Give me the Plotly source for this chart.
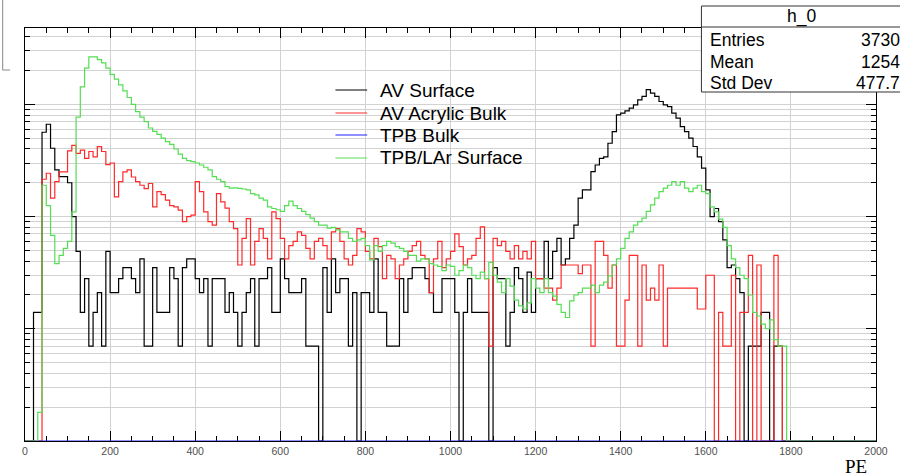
import numpy as np
import plotly.graph_objects as go

# ---- histogram contents: 200 bins of 10 PE from 0 to 2000 ----
bin_edges = list(range(0, 2001, 10))

av_surface = [
    0, 0, 14, 14, 564, 664, 406, 261, 227, 227,
    200, 100, 49, 14, 28, 7, 14, 21, 7, 49,
    21, 21, 28, 35, 35, 28, 21, 42, 7, 7,
    35, 14, 14, 14, 35, 28, 7, 35, 42, 42,
    28, 21, 28, 7, 28, 28, 28, 14, 21, 14,
    7, 14, 21, 28, 7, 28, 28, 35, 14, 14,
    42, 28, 21, 21, 21, 28, 7, 7, 7, 0,
    35, 14, 42, 21, 28, 28, 7, 21, 0, 21,
    21, 14, 42, 14, 14, 7, 7, 7, 28, 14,
    28, 35, 35, 35, 28, 21, 14, 14, 28, 28,
    28, 14, 0, 14, 28, 14, 14, 14, 14, 0,
    35, 28, 28, 7, 14, 35, 28, 14, 32, 14,
    28, 28, 60, 28, 49, 64, 37, 42, 64, 84,
    146, 173, 173, 251, 288, 330, 340, 450, 572, 805,
    833, 875, 925, 990, 1096, 1175, 1350, 1260, 1175, 1060,
    990, 955, 833, 752, 632, 572, 500, 421, 340, 270,
    173, 100, 118, 90, 62, 35, 37, 28, 21, 0,
    7, 7, 7, 14, 14, 0, 7, 7, 0, 0,
    0, 0, 0, 0, 0, 0, 0, 0, 0, 0,
    0, 0, 0, 0, 0, 0, 0, 0, 0, 0,
]

av_acrylic_bulk = [
    0, 0, 0, 0, 215, 243, 146, 205, 250, 250,
    385, 430, 365, 390, 330, 380, 340, 420, 380, 290,
    300, 150, 205, 250, 260, 225, 205, 190, 177, 197,
    122, 167, 157, 140, 125, 122, 114, 90, 100, 103,
    205, 167, 110, 90, 84, 160, 135, 119, 90, 78,
    37, 64, 96, 37, 60, 78, 64, 42, 110, 96,
    64, 42, 55, 60, 73, 68, 52, 42, 60, 64,
    55, 42, 73, 78, 60, 42, 37, 45, 78, 73,
    49, 42, 64, 54, 28, 45, 42, 28, 37, 42,
    49, 55, 60, 45, 42, 21, 42, 60, 35, 42,
    49, 70, 54, 37, 42, 45, 64, 81, 28, 7,
    64, 55, 60, 49, 42, 55, 42, 49, 42, 60,
    28, 28, 23, 23, 18, 23, 37, 37, 37, 37,
    31, 37, 37, 7, 60, 60, 45, 23, 37, 7,
    7, 18, 45, 45, 7, 37, 18, 23, 18, 37,
    7, 23, 23, 23, 23, 23, 23, 23, 15, 15,
    30, 30, 0, 14, 7, 7, 30, 0, 14, 14,
    45, 0, 37, 0, 0, 0, 45, 7, 0, 0,
    0, 0, 0, 0, 0, 0, 0, 0, 0, 0,
    0, 0, 0, 0, 0, 0, 0, 0, 0, 0,
]

tpb_bulk = [0] * 200

tpb_lar_surface = [
    0, 0, 0, 1.8, 190, 125, 68, 38, 45, 52,
    60, 110, 770, 1430, 2100, 2650, 2650, 2500, 2340, 2100,
    1850, 1680, 1490, 1320, 1150, 1000, 860, 770, 700, 615,
    575, 540, 500, 465, 440, 400, 360, 330, 315, 308,
    300, 288, 275, 260, 227, 215, 205, 185, 179, 180,
    178, 176, 173, 160, 156, 146, 140, 122, 118, 115,
    111, 125, 137, 125, 118, 111, 104, 97, 90, 84,
    84, 79, 80, 76, 73, 73, 64, 60, 62, 64,
    55, 41, 55, 49, 55, 60, 58, 54, 52, 49,
    45, 45, 40, 42, 42, 38, 37, 36, 33, 37,
    36, 30, 33, 37, 35, 30, 28, 32, 28, 39,
    30, 26, 21, 28, 24, 18, 16, 15, 17, 28,
    23, 21, 28, 21, 19.5, 16.5, 14, 12.6, 17.7, 20,
    21, 23, 23, 24.5, 21, 24.5, 26, 29.6, 37, 42,
    52, 64, 73, 84, 90, 97, 111, 127, 146, 167,
    179, 190, 205, 190, 205, 179, 167, 179, 190, 167,
    160, 122, 110, 95, 80, 55, 42, 35, 30, 28,
    20, 14, 13, 11, 10, 12, 8, 7, 7, 0,
    0, 0, 0, 0, 0, 0, 0, 0, 0, 0,
    0, 0, 0, 0, 0, 0, 0, 0, 0, 0,
]

series_names = ["AV Surface", "AV Acrylic Bulk", "TPB Bulk", "TPB/LAr Surface"]
series_values = [av_surface, av_acrylic_bulk, tpb_bulk, tpb_lar_surface]
series_colors = ["#000000", "#ff2a2a", "#2020ff", "#55dd55"]

# log axis: empty bins are drawn on the frame bottom, as ROOT does
y_floor = 1.0
log_range = [0.0, 3.68]

W, H = 900, 476
L, R, T, B = 25, 17, 28, 35


def px_x(px):
    return (px - L) / (W - L - R)


def px_y(py):
    return (H - B - py) / (H - T - B)


def step_path(values):
    v = np.maximum(np.asarray(values, dtype=float), y_floor)
    e = np.asarray(bin_edges, dtype=float)
    x = np.concatenate([[e[0]], e[:-1], [e[-1]], [e[-1]]])
    y = np.concatenate([[y_floor], v, [v[-1]], [y_floor]])
    return x, y


fig = go.Figure()
for name, vals, color in zip(series_names, series_values, series_colors):
    x, y = step_path(vals)
    fig.add_trace(go.Scatter(
        x=x, y=y, mode="lines", name=name, showlegend=False,
        line=dict(color=color, width=1.2, shape="hv"),
        hoverinfo="skip",
    ))

grid_col = "#d2d2d2"
fig.update_layout(
    width=W, height=H,
    margin=dict(l=L, r=R, t=T, b=B, pad=0),
    paper_bgcolor="white", plot_bgcolor="white",
    font=dict(family="Liberation Sans, Arial, sans-serif", color="#000"),
    xaxis=dict(
        range=[0, 2000], tick0=0, dtick=200,
        showline=True, linecolor="black", linewidth=1, mirror="ticks",
        ticks="inside", ticklen=10, tickcolor="black", tickwidth=1,
        showgrid=True, gridcolor=grid_col, gridwidth=1, zeroline=False,
        tickfont=dict(size=10.5, color="#505050", family="Liberation Sans, Arial"),
        minor=dict(dtick=50, ticks="inside", ticklen=5, tickcolor="black",
                   showgrid=False),
        layer="below traces",
    ),
    yaxis=dict(
        type="log", range=log_range, dtick=1,
        showline=True, linecolor="black", linewidth=1, mirror="ticks",
        ticks="inside", ticklen=10, tickcolor="black", tickwidth=1,
        showgrid=True, gridcolor=grid_col, gridwidth=1, zeroline=False,
        showticklabels=False,
        minor=dict(dtick="D1", ticks="inside", ticklen=5, tickcolor="black",
                   showgrid=True, gridcolor=grid_col, gridwidth=1),
        layer="below traces",
    ),
)

# legend (line sample + label per histogram)
legend_rows_y = [90, 113, 135, 158]
leg_font = dict(size=19, color="black", family="Liberation Sans, Arial, sans-serif")
for name, color, ly in zip(series_names, series_colors, legend_rows_y):
    fig.add_shape(type="line", xref="paper", yref="paper",
                  x0=px_x(338), x1=px_x(370), y0=px_y(ly), y1=px_y(ly),
                  line=dict(color=color, width=1.2), layer="above")
    fig.add_annotation(xref="paper", yref="paper", x=px_x(381), y=px_y(ly),
                       text=name, showarrow=False, xanchor="left",
                       yanchor="middle", font=leg_font)

# statistics box
sx0, sx1, sy0, sy1, sy_head = 707, 909, 6, 92, 27
fig.add_shape(type="rect", xref="paper", yref="paper",
              x0=px_x(sx0), x1=px_x(sx1), y0=px_y(sy1), y1=px_y(sy0),
              line=dict(color="#333", width=1), fillcolor="white", layer="above")
fig.add_shape(type="line", xref="paper", yref="paper",
              x0=px_x(sx0), x1=px_x(sx1), y0=px_y(sy_head), y1=px_y(sy_head),
              line=dict(color="#333", width=1), layer="above")

stat_font = dict(size=17.5, color="black", family="Liberation Sans, Arial, sans-serif")
fig.add_annotation(xref="paper", yref="paper", x=px_x(808), y=px_y(17),
                   text="h_0", showarrow=False, xanchor="center", yanchor="middle",
                   font=stat_font)
stats_rows = [("Entries", "3730", 40), ("Mean", "1254", 62), ("Std Dev", "477.7", 83)]
for label, value, ypos in stats_rows:
    fig.add_annotation(xref="paper", yref="paper", x=px_x(714), y=px_y(ypos),
                       text=label, showarrow=False, xanchor="left",
                       yanchor="middle", font=stat_font)
    fig.add_annotation(xref="paper", yref="paper", x=px_x(909), y=px_y(ypos),
                       text=value, showarrow=False, xanchor="right",
                       yanchor="middle", font=stat_font)

# corner of the neighbouring pad frame at the top left
fig.add_shape(type="line", xref="paper", yref="paper",
              x0=px_x(2.5), x1=px_x(2.5), y0=px_y(70), y1=px_y(0),
              line=dict(color="#888", width=1), layer="above")
fig.add_shape(type="line", xref="paper", yref="paper",
              x0=px_x(2.5), x1=px_x(10), y0=px_y(70), y1=px_y(70),
              line=dict(color="#888", width=1), layer="above")

# x-axis title
fig.add_annotation(xref="paper", yref="paper", x=px_x(876), y=px_y(466),
                   text="PE", showarrow=False, xanchor="right", yanchor="middle",
                   font=dict(size=19, color="black",
                             family="Liberation Serif, Times New Roman, serif"))

fig.write_html("out.html")
